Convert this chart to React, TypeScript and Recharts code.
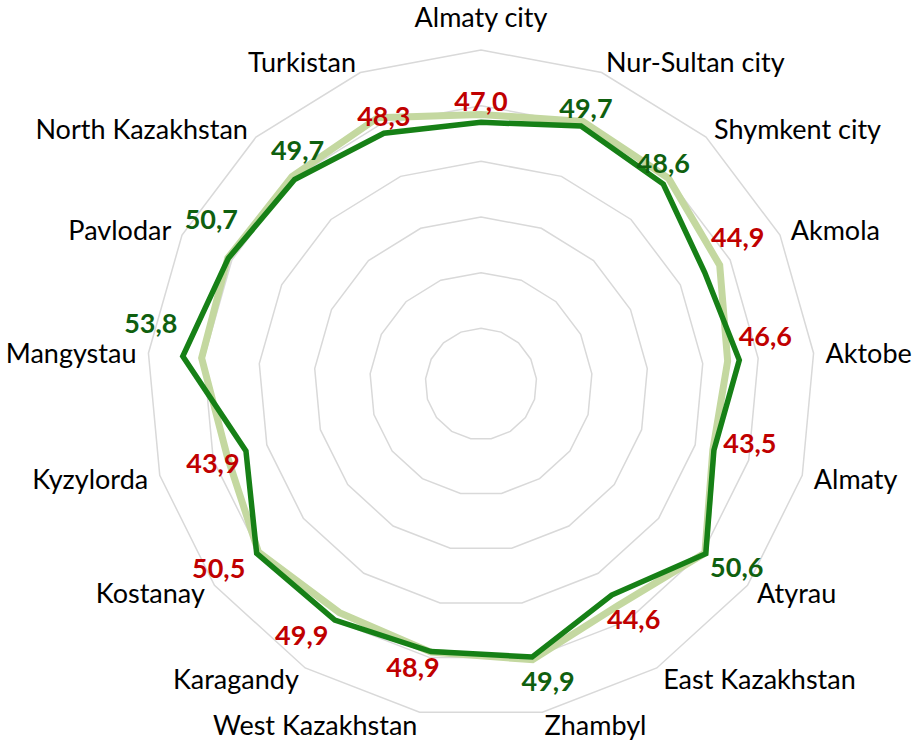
import React from 'react';
import { RadarChart, Radar, PolarGrid, PolarAngleAxis, PolarRadiusAxis } from 'recharts';

const categories = [
  'Almaty city', 'Nur-Sultan city', 'Shymkent city', 'Akmola', 'Aktobe', 'Almaty', 'Atyrau',
  'East Kazakhstan', 'Zhambyl', 'West Kazakhstan', 'Karagandy', 'Kostanay', 'Kyzylorda',
  'Mangystau', 'Pavlodar', 'North Kazakhstan', 'Turkistan',
];
const currentValues = [47.0, 49.7, 48.6, 44.9, 46.6, 43.5, 50.6, 44.6, 49.9, 48.9, 49.9, 50.5, 43.9, 53.8, 50.7, 49.7, 48.3];
const previousValues = [48.4, 50.6, 50.0, 47.9, 44.5, 43.3, 50.4, 46.8, 50.4, 49.0, 48.3, 50.1, 47.4, 50.4, 50.8, 50.4, 51.3];
// 'g' = shown in green, 'r' = shown in red
const labelTone = ['r', 'g', 'g', 'r', 'r', 'r', 'g', 'r', 'g', 'r', 'r', 'r', 'r', 'g', 'g', 'g', 'r'];
const radiusTicks = [0, 10, 20, 30, 40, 50, 60];

// layout/style (not data)
const LABEL_OFFSETS: [number, number][] = [
  [0, -22], [5, -19], [0, -22], [33, -36], [26, -25], [36, -8], [31, 13], [22, 23], [16, 23],
  [-18, 15], [-33, 14], [-38, 14], [-33, 12], [-32, -34], [-17, -40], [3, -30], [0, -18],
];
const TONE_COLORS: Record<string, string> = { g: '#0f600f', r: '#c00000' };
const FONT = 'Lato, "Open Sans", sans-serif';

const data = categories.map((name, i) => ({
  name,
  current: currentValues[i],
  previous: previousValues[i],
}));

const fmt = (v: number) => v.toFixed(1).replace('.', ',');

const AngleTick = (props: any) => {
  const { x, y, textAnchor, payload } = props;
  const dy = textAnchor === 'middle' ? -22 : 0;
  return (
    <text x={x} y={y + dy} textAnchor={textAnchor} dominantBaseline="central" fontFamily={FONT} fontSize={27} fill="#000">
      {payload.value}
    </text>
  );
};

const ValueLabel = (props: any) => {
  const { cx, cy, index } = props;
  const [dx, dy] = LABEL_OFFSETS[index] || [0, 0];
  return (
    <text
      key={`lbl-${index}`}
      x={cx + dx}
      y={cy + dy}
      textAnchor="middle"
      dominantBaseline="central"
      fontFamily={FONT}
      fontWeight={700}
      fontSize={27}
      fill={TONE_COLORS[labelTone[index]]}
    >
      {fmt(currentValues[index])}
    </text>
  );
};

export default function App() {
  return (
    <div style={{ position: 'absolute', left: 0, top: 0, width: 915, height: 741, background: '#fff' }}>
      <RadarChart width={915} height={741} data={data} cx={481} cy={384} outerRadius={334} startAngle={90} endAngle={-270}>
        <PolarGrid gridType="polygon" radialLines={false} stroke="#d9d9d9" strokeWidth={1.5} />
        <PolarAngleAxis dataKey="name" tick={<AngleTick />} tickLine={false} axisLine={false} tickSize={12} />
        <PolarRadiusAxis domain={[0, 60]} ticks={radiusTicks} tickCount={7} tick={false} axisLine={false} />
        <Radar
          dataKey="previous"
          stroke="#c4d8a0"
          strokeWidth={7}
          fill="none"
          fillOpacity={0}
          dot={false}
          isAnimationActive={false}
        />
        <Radar
          dataKey="current"
          stroke="#168016"
          strokeWidth={5.5}
          fill="none"
          fillOpacity={0}
          dot={<ValueLabel />}
          isAnimationActive={false}
        />
      </RadarChart>
    </div>
  );
}
